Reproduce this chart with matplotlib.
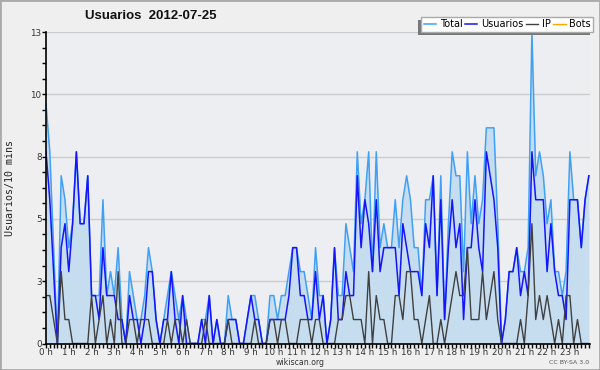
import matplotlib
matplotlib.use('Agg')
import matplotlib.pyplot as plt
from matplotlib.ticker import FixedLocator, FuncFormatter, MultipleLocator
from matplotlib.patches import Rectangle
import numpy as np

# ---------------- data (10-minute intervals, 2012-07-25) ----------------
total = [10, 8, 4, 0, 7, 6, 4, 5, 8, 5,
         5, 7, 2, 2, 2, 6, 2, 3, 2, 4,
         1, 0, 3, 2, 1, 1, 2, 4, 3, 1,
         0, 1, 2, 3, 2, 1, 2, 1, 0, 0,
         0, 1, 1, 2, 0, 1, 0, 0, 2, 1,
         1, 0, 0, 1, 2, 2, 1, 0, 0, 2,
         2, 1, 2, 2, 3, 4, 4, 3, 3, 2,
         1, 4, 2, 2, 0, 1, 4, 2, 2, 5,
         4, 3, 8, 5, 6, 8, 3, 8, 4, 5,
         4, 4, 6, 4, 6, 7, 6, 4, 4, 2,
         6, 6, 7, 2, 7, 1, 5, 8, 7, 7,
         3, 8, 5, 7, 5, 6, 9, 9, 9, 5,
         0, 1, 3, 3, 4, 3, 3, 4, 13, 7,
         8, 7, 5, 6, 3, 3, 2, 3, 8, 6,
         6, 4, 6, 7]

usuarios = [8, 6, 3, 0, 4, 5, 3, 5, 8, 5,
            5, 7, 2, 2, 1, 4, 2, 2, 2, 1,
            1, 0, 2, 1, 1, 0, 1, 3, 3, 1,
            0, 1, 1, 3, 1, 0, 2, 0, 0, 0,
            0, 1, 0, 2, 0, 1, 0, 0, 1, 1,
            1, 0, 0, 1, 2, 1, 1, 0, 0, 1,
            1, 1, 1, 1, 2, 4, 4, 2, 2, 1,
            1, 3, 1, 2, 0, 1, 4, 1, 1, 3,
            2, 2, 7, 4, 6, 5, 3, 6, 3, 4,
            4, 4, 4, 2, 5, 4, 3, 3, 3, 2,
            5, 4, 7, 2, 6, 1, 4, 6, 4, 5,
            1, 4, 4, 6, 4, 3, 8, 7, 6, 4,
            0, 1, 3, 3, 4, 2, 3, 2, 8, 6,
            6, 6, 3, 5, 3, 2, 2, 1, 6, 6,
            6, 4, 6, 7]

ip = [2, 2, 1, 0, 3, 1, 1, 0, 0, 0,
      0, 0, 2, 0, 1, 2, 0, 1, 0, 3,
      0, 0, 1, 1, 0, 1, 1, 1, 0, 0,
      0, 0, 1, 0, 1, 1, 0, 1, 0, 0,
      0, 0, 1, 0, 0, 0, 0, 0, 1, 0,
      0, 0, 0, 0, 0, 1, 0, 0, 0, 1,
      1, 0, 1, 1, 0, 0, 0, 1, 1, 1,
      0, 1, 1, 0, 0, 0, 0, 1, 1, 2,
      2, 1, 1, 1, 0, 3, 0, 2, 1, 1,
      0, 0, 2, 2, 1, 3, 3, 1, 1, 0,
      1, 2, 0, 0, 1, 0, 1, 2, 3, 2,
      2, 4, 1, 1, 1, 3, 1, 2, 3, 1,
      0, 0, 0, 0, 0, 1, 0, 2, 5, 1,
      2, 1, 2, 1, 0, 1, 0, 2, 2, 0,
      1, 0, 0, 0]

bots = [0, 0, 0, 0, 0, 0, 0, 0, 0, 0,
        0, 0, 0, 0, 0, 0, 0, 0, 0, 0,
        0, 0, 0, 0, 0, 0, 0, 0, 0, 0,
        0, 0, 0, 0, 0, 0, 0, 0, 0, 0,
        0, 0, 0, 0, 0, 0, 0, 0, 0, 0,
        0, 0, 0, 0, 0, 0, 0, 0, 0, 0,
        0, 0, 0, 0, 0, 0, 0, 0, 0, 0,
        0, 0, 0, 0, 0, 0, 0, 0, 0, 0,
        0, 0, 0, 0, 0, 0, 0, 0, 0, 0,
        0, 0, 0, 0, 0, 0, 0, 0, 0, 0,
        0, 0, 0, 0, 0, 0, 0, 0, 0, 0,
        0, 0, 0, 0, 0, 0, 0, 0, 0, 0,
        0, 0, 0, 0, 0, 0, 0, 0, 0, 0,
        0, 0, 0, 0, 0, 0, 0, 0, 0, 0,
        0, 0, 0, 0]

hour_labels = ["0 h", "1 h", "2 h", "3 h", "4 h", "5 h", "6 h", "7 h",
               "8 h", "9 h", "10 h", "11 h", "12 h", "13 h", "14 h", "15 h",
               "16 h", "17 h", "18 h", "19 h", "20 h", "21 h", "22 h", "23 h"]
y_ticks = [0, 2.6, 5.2, 7.8, 10.4, 13]

series_names = ["Total", "Usuarios", "IP", "Bots"]
title = "Usuarios  2012-07-25"
ylabel = "Usuarios/10 mins"

# ---------------- figure ----------------
W, H = 600, 370
fig = plt.figure(figsize=(W / 100, H / 100), dpi=100)
fig.patch.set_facecolor('#efefef')

ax = fig.add_axes([46 / W, (H - 343.5) / H, 544 / W, (343.5 - 32) / H])
ax.set_facecolor('#eceef1')

x = np.arange(len(total))
ax.fill_between(x, 0, total, color='#c6ddf0', lw=0, zorder=1)
l_tot, = ax.plot(x, total, color='#40a0f5', lw=1.1, zorder=3, label=series_names[0])
l_usr, = ax.plot(x, usuarios, color='#1414ff', lw=1.1, zorder=4, label=series_names[1])
l_ip, = ax.plot(x, ip, color='#404040', lw=1.0, zorder=5, label=series_names[2])
l_bot, = ax.plot(x, bots, color='#ffa500', lw=1.0, zorder=2, label=series_names[3])

ax.set_xlim(0, 143.3)
ax.set_ylim(0, 13)

ax.yaxis.set_major_locator(FixedLocator(y_ticks))
ax.yaxis.set_minor_locator(FixedLocator(list(np.arange(0, 13.01, 0.65))))
ax.yaxis.set_major_formatter(FuncFormatter(lambda v, p: f"{v:.0f}"))

ax.xaxis.set_major_locator(FixedLocator(list(range(0, 144, 6))))
ax.set_xticklabels(hour_labels)
ax.xaxis.set_minor_locator(MultipleLocator(1))

ax.grid(axis='y', which='major', color='#cccccc', lw=1)
ax.set_axisbelow(True)

for s in ['top', 'right']:
    ax.spines[s].set_visible(False)
for s in ['left', 'bottom']:
    ax.spines[s].set_color('black')
    ax.spines[s].set_linewidth(1.2)
    ax.spines[s].set_zorder(6)

ax.tick_params(axis='both', which='both', direction='out', length=2.6,
               width=1, color='black', labelsize=6.3, labelcolor='#333333', pad=0.6)

# texts
fig.text(151 / W, 1 - 16 / H, title, ha='center', va='center',
         fontweight='bold', family='Liberation Sans', fontsize=9.5, color='#111111')
fig.text(10 / W, (H - 188) / H, ylabel, rotation=90, ha='center', va='center',
         family='DejaVu Sans Mono', fontsize=7.2, color='#222222')
fig.text(300 / W, 1 - 362.5 / H, "wikiscan.org", ha='center', va='center',
         fontsize=5.6, color='#333333')
fig.text(589 / W, 1 - 362.5 / H, "CC BY-SA 3.0", ha='right', va='center',
         fontsize=4.5, color='#555555')

# legend
leg = fig.legend([l_tot, l_usr, l_ip, l_bot], series_names, loc='upper right',
                 bbox_to_anchor=(593 / W, 1 - 17 / H), ncol=4, fontsize=7,
                 frameon=True, fancybox=False, handlelength=1.3,
                 handletextpad=0.35, columnspacing=0.25, borderpad=0.25,
                 borderaxespad=0)
leg.get_frame().set_edgecolor('#aaaaaa')
leg.get_frame().set_facecolor('white')
leg.get_frame().set_alpha(1)
leg.get_frame().set_linewidth(1)
leg.set_zorder(10)

fig.canvas.draw()
bb = leg.get_frame().get_window_extent()
fig.add_artist(Rectangle(((bb.x0 - 3) / W, (bb.y0 - 3) / H), bb.width / W, bb.height / H,
                         transform=fig.transFigure, facecolor='#777777',
                         edgecolor='none', zorder=9))

# outer border
fig.add_artist(Rectangle((0, 0), 1, 1, transform=fig.transFigure, fill=False,
                         edgecolor='#aaaaaa', lw=2, zorder=20))

fig.savefig('out.png', dpi=100, facecolor=fig.get_facecolor())
